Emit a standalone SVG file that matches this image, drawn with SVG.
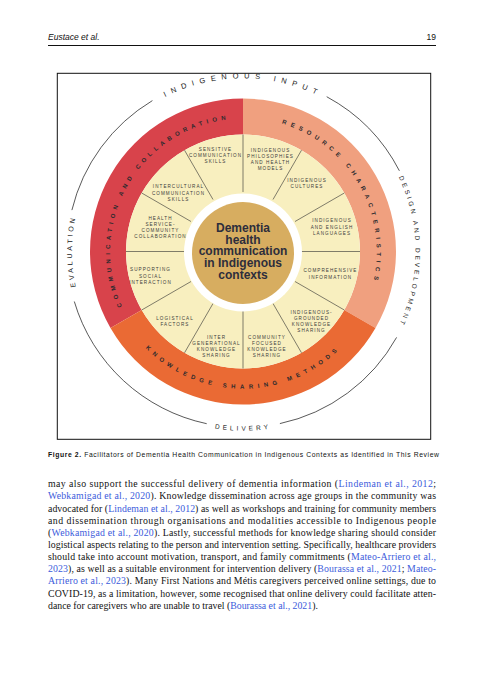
<svg xmlns="http://www.w3.org/2000/svg" width="482" height="686" viewBox="0 0 482 686">
<style>
.hdr{font-family:"Liberation Sans",Arial,sans-serif;font-size:8.5px;fill:#111}
.lab{font-family:"Liberation Sans",Arial,sans-serif;font-size:4.6px;letter-spacing:1.05px;fill:#3c3c3c;text-anchor:middle}
.band{font-family:"Liberation Sans",Arial,sans-serif;font-size:6px;font-weight:bold;fill:#2a2a2e}
.outer{font-family:"Liberation Sans",Arial,sans-serif;fill:#222}
.ctr{font-family:"Liberation Sans",Arial,sans-serif;font-size:12px;font-weight:bold;fill:#2d2d3c;text-anchor:middle}
.div{stroke:#2e2e2e;stroke-width:0.6}
.arc{fill:none;stroke:#111;stroke-width:0.7}
.body{font-family:"Liberation Serif","Times New Roman",serif;font-size:9.8px;fill:#111}
.lnk{fill:#3b5bdb}
</style>
<defs>
<path id="pRed" d="M166.7,360.45 A133,133 0 0 1 299.2,131.0"/>
<path id="pSal" d="M187.4,129.6 A134,134 0 0 1 318.9,361.9"/>
<path id="pOra" d="M106.5,263.4 A137,137 0 0 0 379.5,263.4"/>
<path id="pTop" d="M72.6,221.5 A173,173 0 0 1 413.4,221.5"/>
<path id="pLeft" d="M213.3,419.9 A171,171 0 0 1 213.3,83.1"/>
<path id="pRight" d="M272.9,81.6 A172.5,172.5 0 0 1 272.9,421.4"/>
<path id="pBot" d="M66.7,282.6 A179,179 0 0 0 419.3,282.6"/>
</defs>
<rect width="482" height="686" fill="#fff"/>

<g id="header">
<text class="hdr" x="48" y="40" font-style="italic">Eustace et al.</text>
<text class="hdr" x="436" y="40" text-anchor="end">19</text>
<line x1="48" y1="45.5" x2="436" y2="45.5" stroke="#111" stroke-width="1"/>
</g>

<rect id="frame" x="57.3" y="73.3" width="373.4" height="366" fill="none" stroke="#111" stroke-width="1"/>

<g id="outer-arcs">
<path class="arc" d="M326.7,96.7 A176,176 0 0 1 399.4,170.8"/>
<path class="arc" d="M396.6,337.4 A176,176 0 0 1 279.9,423.6"/>
<path class="arc" d="M206.7,423.7 A176,176 0 0 1 74.3,301.5"/>
<path class="arc" d="M71.9,210.1 A176,176 0 0 1 152.4,100.6"/>
</g>

<g id="outer-labels">
<text id="indigenous-input" class="outer" font-size="7.5" letter-spacing="5.6"><textPath href="#pTop" startOffset="50%" text-anchor="middle">INDIGENOUS INPUT</textPath></text>
<text id="evaluation" class="outer" font-size="7" letter-spacing="2.8"><textPath href="#pLeft" startOffset="50%" text-anchor="middle">EVALUATION</textPath></text>
<text id="design" class="outer" font-size="6.5" letter-spacing="2.85"><textPath href="#pRight" startOffset="50%" text-anchor="middle">DESIGN AND DEVELOPMENT</textPath></text>
<text id="delivery" class="outer" font-size="6.5" letter-spacing="3.1"><textPath href="#pBot" startOffset="50%" text-anchor="middle">DELIVERY</textPath></text>
</g>

<g id="band-communication">
<path d="M110.5,328 A153,153 0 0 1 243,98.5 L243,134.5 A117,117 0 0 0 141.7,310 Z" fill="#D8434B"/>
<text class="band" letter-spacing="4.25"><textPath href="#pRed" startOffset="50%" text-anchor="middle">COMMUNICATION AND COLLABORATION</textPath></text>
</g>
<g id="band-resource">
<path d="M243,98.5 A153,153 0 0 1 375.5,328 L344.3,310 A117,117 0 0 0 243,134.5 Z" fill="#F0A07F"/>
<text class="band" letter-spacing="4.6"><textPath href="#pSal" startOffset="50%" text-anchor="middle">RESOURCE CHARACTERISTICS</textPath></text>
</g>
<g id="band-knowledge">
<path d="M375.5,328 A153,153 0 0 1 110.5,328 L141.7,310 A117,117 0 0 0 344.3,310 Z" fill="#EA6A34"/>
<text class="band" letter-spacing="4.65"><textPath href="#pOra" startOffset="50%" text-anchor="middle">KNOWLEDGE SHARING METHODS</textPath></text>
</g>

<circle id="cream" cx="243" cy="251.5" r="117" fill="#F8EFBF"/>

<g id="connectors">
<line class="div" x1="300" y1="251.5" x2="360" y2="251.5" stroke="#E6DA9E"/>
<line class="div" x1="295" y1="281.5" x2="344.3" y2="310"/>
<line class="div" x1="273" y1="303.5" x2="301.5" y2="352.8"/>
<line class="div" x1="243" y1="311" x2="243" y2="368.5"/>
<line class="div" x1="213" y1="303.5" x2="184.5" y2="352.8"/>
<line class="div" x1="191" y1="281.5" x2="141.7" y2="310"/>
<line class="div" x1="185" y1="251.5" x2="126" y2="251.5"/>
<line class="div" x1="191" y1="221.5" x2="141.7" y2="193"/>
<line class="div" x1="213" y1="199.5" x2="184.5" y2="150.2"/>
<line class="div" x1="243" y1="192" x2="243" y2="134.5" stroke="#3c4a30"/>
<line class="div" x1="273" y1="199.5" x2="301.5" y2="150.2"/>
<line class="div" x1="295" y1="221.5" x2="344.3" y2="193"/>
</g>

<g id="sector-labels">
<text id="s-sensitive" class="lab"><tspan x="215.5" y="151">SENSITIVE</tspan><tspan x="215.5" y="157">COMMUNICATION</tspan><tspan x="215.5" y="163">SKILLS</tspan></text>
<text id="s-philosophies" class="lab"><tspan x="270.5" y="152">INDIGENOUS</tspan><tspan x="270.5" y="158">PHILOSOPHIES</tspan><tspan x="270.5" y="164">AND HEALTH</tspan><tspan x="270.5" y="170">MODELS</tspan></text>
<text id="s-cultures" class="lab"><tspan x="307" y="181.5">INDIGENOUS</tspan><tspan x="307" y="188">CULTURES</tspan></text>
<text id="s-languages" class="lab"><tspan x="332" y="222">INDIGENOUS</tspan><tspan x="332" y="228.5">AND ENGLISH</tspan><tspan x="332" y="234.5">LANGUAGES</tspan></text>
<text id="s-comprehensive" class="lab"><tspan x="330.5" y="272">COMPREHENSIVE</tspan><tspan x="330.5" y="278.5">INFORMATION</tspan></text>
<text id="s-grounded" class="lab"><tspan x="311.5" y="313.5">INDIGENOUS-</tspan><tspan x="311.5" y="319.5">GROUNDED</tspan><tspan x="311.5" y="325.5">KNOWLEDGE</tspan><tspan x="311.5" y="331.5">SHARING</tspan></text>
<text id="s-community" class="lab"><tspan x="267" y="338.5">COMMUNITY</tspan><tspan x="267" y="344.5">FOCUSED</tspan><tspan x="267" y="350.5">KNOWLEDGE</tspan><tspan x="267" y="356.5">SHARING</tspan></text>
<text id="s-intergen" class="lab"><tspan x="216.5" y="338.5">INTER</tspan><tspan x="216.5" y="344.5">GENERATIONAL</tspan><tspan x="216.5" y="350.5">KNOWLEDGE</tspan><tspan x="216.5" y="356.5">SHARING</tspan></text>
<text id="s-logistical" class="lab"><tspan x="175" y="319.5">LOGISTICAL</tspan><tspan x="175" y="325.5">FACTORS</tspan></text>
<text id="s-supporting" class="lab"><tspan x="150.5" y="271">SUPPORTING</tspan><tspan x="150.5" y="277.5">SOCIAL</tspan><tspan x="150.5" y="284">INTERACTION</tspan></text>
<text id="s-health" class="lab"><tspan x="160.5" y="219.5">HEALTH</tspan><tspan x="160.5" y="225.5">SERVICE-</tspan><tspan x="160.5" y="231.5">COMMUNITY</tspan><tspan x="160.5" y="238">COLLABORATION</tspan></text>
<text id="s-intercultural" class="lab"><tspan x="178.5" y="188">INTERCULTURAL</tspan><tspan x="178.5" y="194.5">COMMUNICATION</tspan><tspan x="178.5" y="201">SKILLS</tspan></text>
</g>

<g id="center">
<circle cx="243" cy="252.5" r="59" fill="#fff"/>
<circle cx="243" cy="253" r="51" fill="#D7AD60"/>
<text class="ctr"><tspan x="243" y="231.8">Dementia</tspan><tspan x="243" y="243.6">health</tspan><tspan x="243" y="255.4">communication</tspan><tspan x="243" y="267.2">in Indigenous</tspan><tspan x="243" y="279">contexts</tspan></text>
</g>

<g id="caption">
<text x="48" y="457" font-family="'Liberation Sans',Arial,sans-serif" font-size="6.8" fill="#111" textLength="391" lengthAdjust="spacing"><tspan font-weight="bold">Figure 2.</tspan>  Facilitators of Dementia Health Communication in Indigenous Contexts as Identified in This Review</text>
</g>

<g id="body">
<text class="body" x="48" y="487.3" textLength="388" lengthAdjust="spacing">may also support the successful delivery of dementia information (<tspan class="lnk">Lindeman et al., 2012</tspan>;</text>
<text class="body" x="48" y="499.4" textLength="388" lengthAdjust="spacing"><tspan class="lnk">Webkamigad et al., 2020</tspan>). Knowledge dissemination across age groups in the community was</text>
<text class="body" x="48" y="511.6" textLength="388" lengthAdjust="spacing">advocated for (<tspan class="lnk">Lindeman et al., 2012</tspan>) as well as workshops and training for community members</text>
<text class="body" x="48" y="523.8" textLength="388" lengthAdjust="spacing">and dissemination through organisations and modalities accessible to Indigenous people</text>
<text class="body" x="48" y="536" textLength="388" lengthAdjust="spacing">(<tspan class="lnk">Webkamigad et al., 2020</tspan>). Lastly, successful methods for knowledge sharing should consider</text>
<text class="body" x="48" y="548.1" textLength="388" lengthAdjust="spacing">logistical aspects relating to the person and intervention setting. Specifically, healthcare providers</text>
<text class="body" x="48" y="560.2" textLength="388" lengthAdjust="spacing">should take into account motivation, transport, and family commitments (<tspan class="lnk">Mateo-Arriero et al.,</tspan></text>
<text class="body" x="48" y="572.3" textLength="388" lengthAdjust="spacing"><tspan class="lnk">2023</tspan>), as well as a suitable environment for intervention delivery (<tspan class="lnk">Bourassa et al., 2021</tspan>; <tspan class="lnk">Mateo-</tspan></text>
<text class="body" x="48" y="584.4" textLength="388" lengthAdjust="spacing"><tspan class="lnk">Arriero et al., 2023</tspan>). Many First Nations and Métis caregivers perceived online settings, due to</text>
<text class="body" x="48" y="596.5" textLength="388" lengthAdjust="spacing">COVID-19, as a limitation, however, some recognised that online delivery could facilitate atten-</text>
<text class="body" x="48" y="608.6">dance for caregivers who are unable to travel (<tspan class="lnk">Bourassa et al., 2021</tspan>).</text>
</g>
</svg>
